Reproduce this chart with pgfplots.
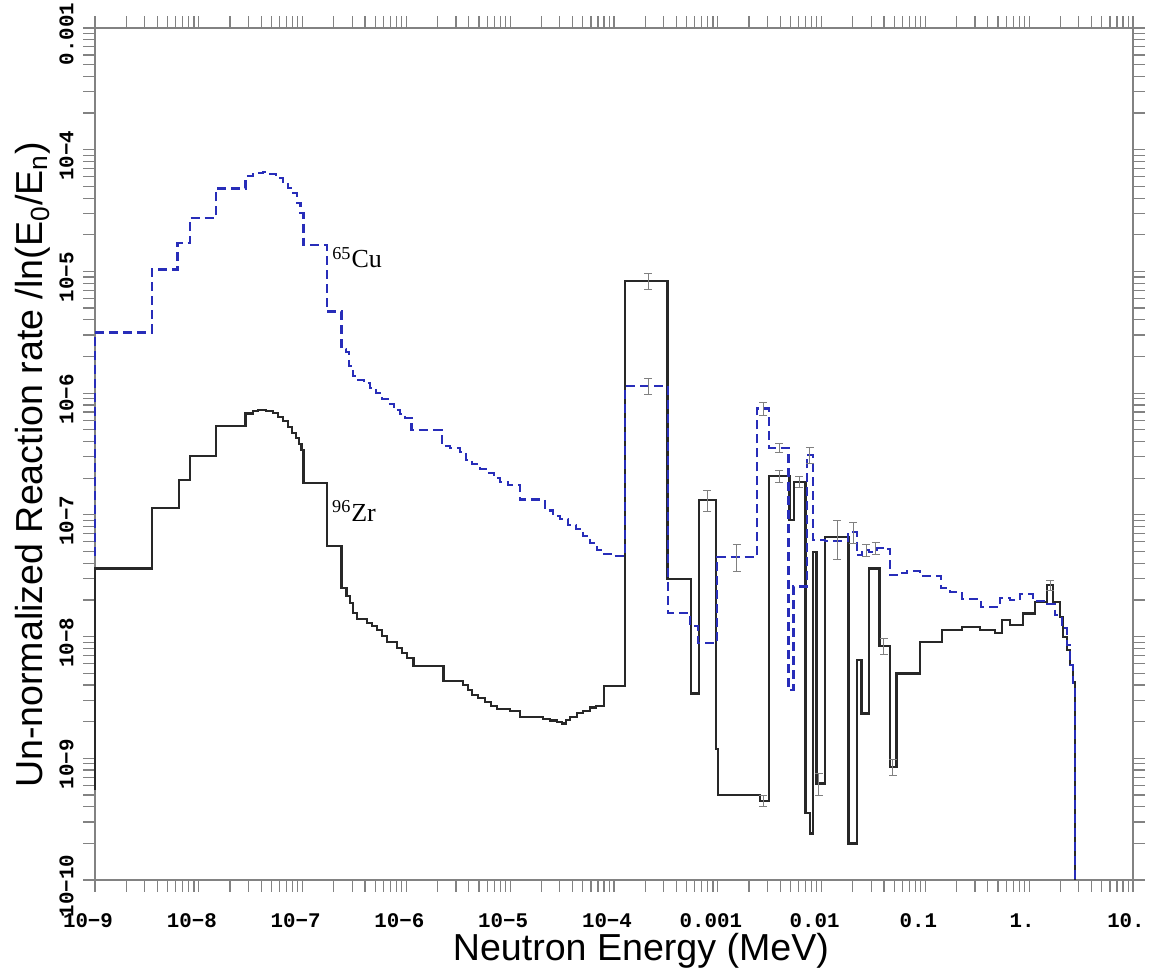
\documentclass[border=0pt]{standalone}
\usepackage{fontspec}
\setmainfont{Liberation Sans}
\newfontfamily\tickfont{Liberation Mono}
\newfontfamily\annfont{Liberation Serif}
\usepackage{pgfplots}
\pgfplotsset{compat=1.18}
\definecolor{cublue}{RGB}{40,45,185}
\definecolor{axgray}{RGB}{130,130,130}
\definecolor{zrblack}{RGB}{40,40,40}
\begin{document}
\begin{tikzpicture}
\begin{axis}[
  name=ax,
  scale only axis, width=519pt, height=426pt,
  xmode=log, ymode=log,
  xmin=1e-9, xmax=10, ymin=1e-10, ymax=1e-3,
  clip=false,
  axis line style={axgray, line width=0.6pt},
  every tick/.style={axgray, line width=0.6pt},
  tick align=outside,
  major tick length=6pt, minor tick length=6pt,
  xtick={1e-9,1e-8,1e-7,1e-6,1e-5,1e-4,1e-3,1e-2,1e-1,1,10},
  xticklabels={10−9,10−8,10−7,10−6,10−5,10−4,0.001,0.01,0.1,1.,10.},
  ytick={1e-10,1e-9,1e-8,1e-7,1e-6,1e-5,1e-4,1e-3},
  yticklabels={10−10,10−9,10−8,10−7,10−6,10−5,10−4,0.001},
  ticklabel style={font=\tickfont\bfseries\fontsize{10.4pt}{12pt}\selectfont},
  xticklabel style={anchor=north, inner sep=0pt, xshift=-3.5pt, yshift=-10.5pt},
  yticklabel style={xshift=-4.5pt, yshift=-3pt, rotate=90, anchor=south, inner sep=0pt},
  xlabel={Neutron Energy (MeV)},
  ylabel={Un-normalized Reaction rate /ln(E\textsubscript{0}/E\textsubscript{n})},
  label style={font=\fontsize{18.8pt}{22pt}\selectfont},
  xlabel style={at={(axis description cs:0.526,-0.0615)}, anchor=north, inner sep=0pt},
  ylabel style={at={(axis description cs:-0.0424,0.487)}, anchor=south, inner sep=0pt},
]
% 96Zr
\addplot[const plot, zrblack, line width=1.2pt, mark=none] coordinates {
(1e-9,5.48e-10) (1e-9,3.63e-8) (3.52e-9,1.14e-7) (6.45e-9,1.93e-7) (8.23e-9,3.06e-7)
(1.47e-8,5.40e-7) (2.83e-8,6.82e-7) (3.33e-8,7.13e-7) (3.72e-8,7.26e-7) (4.44e-8,7.13e-7)
(5.19e-8,6.86e-7) (5.79e-8,6.36e-7) (6.47e-8,5.90e-7) (7.24e-8,5.27e-7) (7.91e-8,4.70e-7)
(8.64e-8,4.28e-7) (9.23e-8,3.82e-7) (9.76e-8,3.41e-7) (1.016e-7,1.82e-7) (1.71e-7,5.54e-8)
(2.38e-7,2.50e-8) (2.66e-7,2.15e-8) (2.86e-7,1.88e-8) (3.06e-7,1.56e-8) (3.34e-7,1.39e-8)
(4.17e-7,1.29e-8) (4.66e-7,1.22e-8) (5.21e-7,1.13e-8) (5.82e-7,1.01e-8) (6.50e-7,9.07e-9)
(8.12e-7,8.05e-9) (9.07e-7,7.32e-9) (1.01e-6,6.66e-9) (1.17e-6,5.72e-9) (2.27e-6,4.33e-9)
(3.53e-6,3.99e-9) (3.92e-6,3.63e-9) (4.29e-6,3.31e-9) (4.90e-6,3.12e-9) (5.72e-6,2.89e-9)
(6.53e-6,2.68e-9) (7.46e-6,2.54e-9) (9.96e-6,2.44e-9) (1.24e-5,2.19e-9) (2.07e-5,2.10e-9)
(2.42e-5,2.04e-9) (2.82e-5,1.98e-9) (3.16e-5,1.93e-9) (3.45e-5,2.06e-9) (3.77e-5,2.19e-9)
(4.40e-5,2.35e-9) (5.03e-5,2.44e-9) (5.87e-5,2.61e-9) (6.71e-5,2.68e-9) (8.01e-5,3.92e-9)
(1.28e-4,8.39e-6) (3.29e-4,2.97e-8) (5.52e-4,3.41e-9) (6.59e-4,1.32e-7) (9.61e-4,1.19e-9)
(1.005e-3,4.99e-10) (2.55e-3,4.47e-10) (3.13e-3,2.08e-7) (4.89e-3,9.06e-8) (5.42e-3,1.87e-7)
(7.00e-3,3.55e-10) (7.73e-3,2.41e-10) (8.32e-3,4.98e-8) (8.97e-3,6.22e-10) (1.08e-2,6.61e-8)
(1.81e-2,2.00e-10) (2.18e-2,6.41e-9) (2.43e-2,2.34e-9) (2.88e-2,3.63e-8) (3.60e-2,8.40e-9)
(4.56e-2,8.51e-10) (5.29e-2,4.99e-9) (8.87e-2,9.07e-9) (0.1445,1.13e-8) (0.2253,1.20e-8)
(0.3358,1.13e-8) (0.4685,1.07e-8) (0.5470,1.37e-8) (0.6533,1.24e-8) (0.8717,1.55e-8)
(1.138,1.93e-8) (1.484,2.65e-8) (1.696,1.93e-8) (1.981,1.45e-8) (2.117,9.90e-9)
(2.313,7.74e-9) (2.473,5.83e-9) (2.643,4.23e-9) (2.763,1e-10)
};
% 65Cu
\addplot[const plot, cublue, line width=1.2pt, dash pattern=on 4.5pt off 2.5pt, mark=none] coordinates {
(1e-9,4.58e-8) (1e-9,3.15e-6) (3.52e-9,1.04e-5) (6.23e-9,1.72e-5) (8.23e-9,2.76e-5)
(1.47e-8,4.82e-5) (2.83e-8,6.08e-5) (3.33e-8,6.43e-5) (4.16e-8,6.56e-5) (4.85e-8,6.31e-5)
(5.54e-8,5.85e-5) (6.47e-8,5.43e-5) (7.24e-8,4.85e-5) (8.08e-8,4.41e-5) (8.83e-8,3.65e-5)
(9.55e-8,3.02e-5) (1.016e-7,1.65e-5) (1.71e-7,4.67e-6) (2.38e-7,2.30e-6) (2.62e-7,2.18e-6)
(2.80e-7,1.67e-6) (3.06e-7,1.38e-6) (3.42e-7,1.28e-6) (3.90e-7,1.21e-6) (4.46e-7,1.10e-6)
(5.10e-7,1.00e-6) (5.82e-7,8.94e-7) (6.65e-7,8.14e-7) (7.60e-7,7.26e-7) (8.68e-7,6.73e-7)
(9.69e-7,6.24e-7) (1.125e-6,4.98e-7) (2.19e-6,3.68e-7) (2.63e-6,3.54e-7) (3.28e-6,3.28e-7)
(3.75e-6,2.82e-7) (4.29e-6,2.61e-7) (5.12e-6,2.38e-7) (5.98e-6,2.21e-7) (6.98e-6,2.01e-7)
(7.98e-6,1.86e-7) (9.52e-6,1.76e-7) (1.24e-5,1.34e-7) (2.16e-5,1.09e-7) (2.58e-5,9.78e-8)
(3.02e-5,9.24e-8) (3.60e-5,8.25e-8) (4.31e-5,7.64e-8) (5.03e-5,6.69e-8) (5.87e-5,5.86e-8)
(6.86e-5,5.14e-8) (8.01e-5,4.76e-8) (1.00e-4,4.58e-8) (1.28e-4,1.15e-6) (3.31e-4,1.56e-8)
(5.40e-4,1.22e-8) (6.45e-4,8.84e-9) (9.82e-4,4.53e-8) (2.40e-3,7.50e-7) (3.13e-3,3.54e-7)
(4.78e-3,3.63e-9) (5.34e-3,2.57e-8) (7.19e-3,3.10e-7) (8.32e-3,6.21e-8) (1.08e-2,6.09e-8)
(1.80e-2,7.22e-8) (2.19e-2,4.67e-8) (2.45e-2,5.14e-8) (2.86e-2,4.95e-8) (3.42e-2,5.34e-8)
(3.91e-2,5.23e-8) (4.56e-2,3.20e-8) (5.33e-2,3.32e-8) (6.65e-2,3.45e-8) (8.87e-2,3.14e-8)
(0.1414,2.50e-8) (0.1726,2.32e-8) (0.2253,2.03e-8) (0.3433,1.75e-8) (0.5234,2.07e-8)
(0.6533,1.99e-8) (0.8155,2.23e-8) (1.088,1.96e-8) (1.420,1.85e-8) (1.773,1.50e-8)
(2.071,1.17e-8) (2.313,8.51e-9) (2.473,5.83e-9) (2.643,4.15e-9) (2.763,1e-10)
};
% error bars
\addplot[draw=none, mark=none, error bars/.cd, y dir=both, y explicit relative,
  error bar style={draw=gray, line width=0.5pt},
  error mark options={draw=gray, mark size=2pt, line width=0.5pt, rotate=90}]
coordinates {
(2.13e-4,8.39e-6) +- (0,0.15)
(2.13e-4,1.15e-6) +- (0,0.15)
(7.96e-4,1.32e-7) +- (0,0.2)
(1.53e-3,4.53e-8) +- (0,0.25)
(2.73e-3,7.50e-7) +- (0,0.12)
(3.89e-3,2.08e-7) +- (0,0.12)
(3.89e-3,3.54e-7) +- (0,0.08)
(6.06e-3,1.87e-7) +- (0,0.1)
(7.73e-3,3.10e-7) +- (0,0.15)
(1.41e-2,6.61e-8) +- (0,0.35)
(2.01e-2,7.22e-8) +- (0,0.2)
(2.68e-2,5.14e-8) +- (0,0.12)
(3.34e-2,5.34e-8) +- (0,0.12)
(3.99e-2,8.40e-9) +- (0,0.15)
(9.44e-3,6.22e-10) +- (0,0.2)
(2.73e-3,4.47e-10) +- (0,0.1)
(1.587,2.65e-8) +- (0,0.1)
(4.87e-2,8.51e-10) +- (0,0.15)
};
\node[anchor=base west, inner sep=0pt, font=\annfont\fontsize{13pt}{15pt}\selectfont] at (axis cs:1.92e-7,1.07e-5) {\textsuperscript{65}Cu};
\node[anchor=base west, inner sep=0pt, font=\annfont\fontsize{13pt}{15pt}\selectfont] at (axis cs:1.91e-7,8.89e-8) {\textsuperscript{96}Zr};
\end{axis}
\pgfresetboundingbox
\path ([shift={(-47.5pt,-45pt)}]ax.south west) rectangle ([shift={(10.5pt,14pt)}]ax.north east);
\end{tikzpicture}
\end{document}
